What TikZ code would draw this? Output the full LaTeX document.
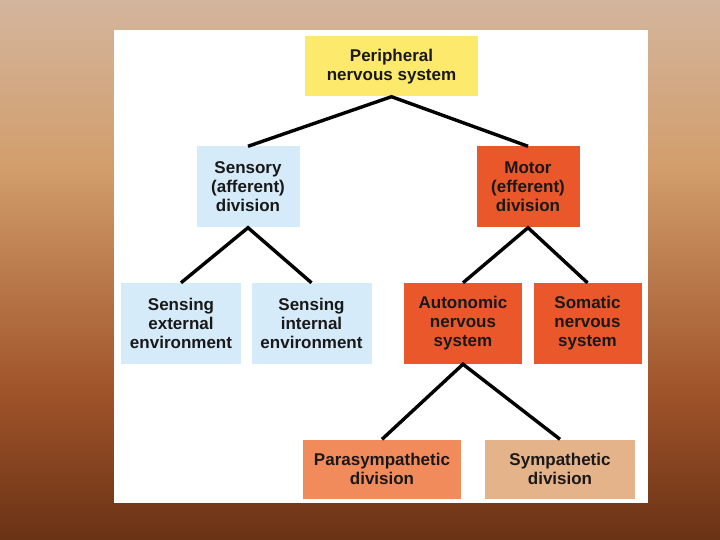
\documentclass[tikz,border=0pt]{standalone}
\usepackage{fontspec}
\setmainfont{Liberation Sans}
\definecolor{bgtop}{HTML}{D3B59D}
\definecolor{bgtan}{HTML}{D29E6C}
\definecolor{bgrust}{HTML}{A0542A}
\definecolor{bgdark}{HTML}{6A3215}
\definecolor{pnsyellow}{HTML}{FDE96C}
\definecolor{sensblue}{HTML}{D5EBFA}
\definecolor{motorred}{HTML}{E9572B}
\definecolor{parasalmon}{HTML}{F28B5C}
\definecolor{sympbeige}{HTML}{E5B38A}
\tikzset{
  cell/.style={rectangle, inner sep=0pt, align=center,
    font=\fontsize{17}{19}\selectfont\bfseries, text=black!90},
  link/.style={line width=3.4pt, line join=miter}
}
\begin{document}
\begin{tikzpicture}[x=1pt, y=-1pt]
  \useasboundingbox (0,0) rectangle (720,540);
  % slide background, light tan at the top to dark brown at the bottom
  \shade[top color=bgtop, bottom color=bgtan] (0,0) rectangle (720,165);
  \shade[top color=bgtan, bottom color=bgrust] (0,165) rectangle (720,390);
  \shade[top color=bgrust, bottom color=bgdark] (0,390) rectangle (720,540);
  % white panel
  \fill[white] (114,30) rectangle (648,503);
  % boxes
  \node[cell, fill=pnsyellow, minimum width=173pt, minimum height=60pt]
       (periph) at (391.5,66.5) {Peripheral\\nervous system};
  \node[cell, fill=sensblue, minimum width=103pt, minimum height=81pt]
       (sensory) at (248,187) {Sensory\\(afferent)\\division};
  \node[cell, fill=motorred, minimum width=103pt, minimum height=81pt]
       (motor) at (528,187) {Motor\\(efferent)\\division};
  \node[cell, fill=sensblue, minimum width=120pt, minimum height=81pt]
       (sensext) at (181,323.5) {Sensing\\external\\environment};
  \node[cell, fill=sensblue, minimum width=120pt, minimum height=81pt]
       (sensint) at (311.5,323.5) {Sensing\\internal\\environment};
  \node[cell, fill=motorred, minimum width=118pt, minimum height=81pt]
       (auton) at (463,323.5) {Autonomic\\nervous\\system};
  \node[cell, fill=motorred, minimum width=108pt, minimum height=81pt]
       (somatic) at (587.5,323.5) {Somatic\\nervous\\system};
  \node[cell, fill=parasalmon, minimum width=158pt, minimum height=59pt]
       (parasym) at (382,469) {Parasympathetic\\division};
  \node[cell, fill=sympbeige, minimum width=150pt, minimum height=59pt]
       (sympa) at (560,469) {Sympathetic\\division};
  % branches
  \draw[link] (sensory.north) -- (periph.south) -- (motor.north);
  \draw[link] (sensext.north) -- (sensory.south) -- (sensint.north);
  \draw[link] (auton.north) -- (motor.south) -- (somatic.north);
  \draw[link] (parasym.north) -- (auton.south) -- (sympa.north);
\end{tikzpicture}
\end{document}
